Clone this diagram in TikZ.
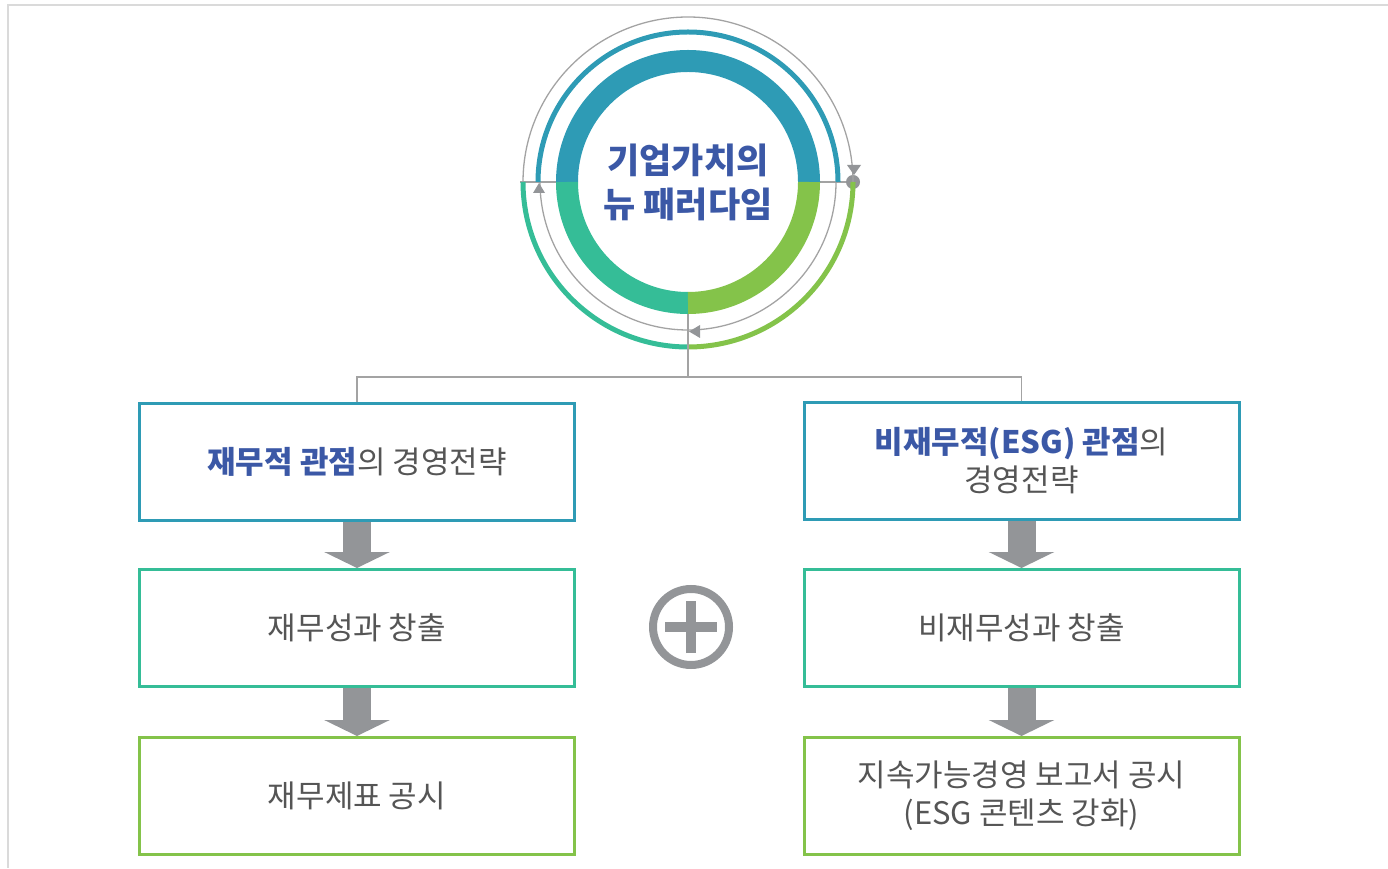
\documentclass[tikz,border=0pt]{standalone}
\usepackage{fontspec}
\newfontfamily\kr{Noto Sans CJK KR}
\usetikzlibrary{arrows.meta,calc}
\definecolor{ringblue}{HTML}{2E9BB5}
\definecolor{ringteal}{HTML}{35BD97}
\definecolor{ringgreen}{HTML}{84C34A}
\definecolor{txtblue}{HTML}{3B58A6}
\definecolor{txtgray}{HTML}{555555}
\definecolor{linegray}{HTML}{A3A3A3}
\definecolor{arrowgray}{HTML}{939598}
\definecolor{framegray}{HTML}{DADADA}
\begin{document}
\begin{tikzpicture}[x=1pt,y=1pt,
  box/.style={draw, line width=3pt, minimum width=435pt, minimum height=117pt,
    align=center, inner sep=0pt, text=txtgray,
    font=\kr\fontsize{31}{38}\selectfont},
  conn/.style={draw=linegray, line width=1.3pt},
  thinring/.style={draw=linegray, line width=1.3pt},
  blockarrow/.style={draw=arrowgray, line width=28pt,
    -{Triangle[width=65pt,length=16pt]}},
  marker/.style={fill=arrowgray}
]
\useasboundingbox (0,0) rectangle (1388,868);
% frame
\draw[framegray, line width=2pt] (1388,863) -- (8,863) -- (8,0);

% hub
\coordinate (C) at (688,686);
\node[circle, minimum size=220pt, inner sep=0pt, align=center, text=txtblue,
  font=\kr\bfseries\fontsize{35}{44}\selectfont] (hub) at (C) {기업가치의\\뉴 패러다임};

% boxes
\node[box, draw=ringblue]  (L1) at (357,406) {\textcolor{txtblue}{\bfseries 재무적 관점}의 경영전략};
\node[box, draw=ringteal]  (L2) at (357,240) {재무성과 창출};
\node[box, draw=ringgreen] (L3) at (357,72)  {재무제표 공시};
\node[box, draw=ringblue]  (R1) at (1021.5,407) {\textcolor{txtblue}{\bfseries 비재무적(ESG) 관점}의\\경영전략};
\node[box, draw=ringteal]  (R2) at (1021.5,240) {비재무성과 창출};
\node[box, draw=ringgreen] (R3) at (1021.5,72)  {지속가능경영 보고서 공시\\(ESG 콘텐츠 강화)};

% connectors from hub to boxes
\coordinate (j) at (688,491);
\draw[conn] (hub.south) -- (j);
\draw[conn] (L1.north) |- (j) -| (R1.north);

% horizontal line through hub
\node[circle, fill=arrowgray, minimum size=14pt, inner sep=0pt] (dot) at (853,686) {};
\coordinate (lend) at (520,686);
\draw[conn] (hub.west) -- (lend);
\draw[conn] (hub.east) -- (dot);

% thin rings
\draw[thinring] (C) ++(0:165) arc[start angle=0, end angle=180, radius=165];
\draw[thinring] (C) ++(180:148) arc[start angle=180, end angle=360, radius=148];
\draw[ringblue, line width=5pt] (C) ++(0:150) arc[start angle=0, end angle=180, radius=150];
\draw[ringteal, line width=5pt] (C) ++(180:165) arc[start angle=180, end angle=270, radius=165];
\draw[ringgreen, line width=5pt] (C) ++(270:165) arc[start angle=270, end angle=360, radius=165];

% thick ring
\draw[ringblue, line width=22pt] (C) ++(0:121) arc[start angle=0, end angle=180, radius=121];
\draw[ringteal, line width=22pt] (C) ++(180:121) arc[start angle=180, end angle=270, radius=121];
\draw[ringgreen, line width=22pt] (C) ++(270:121) arc[start angle=270, end angle=360, radius=121];

% vertical line visible over the bottom arcs gap
\draw[conn] ($(C)+(0,-132)$) -- ($(C)+(0,-170)$);

% direction markers
\fill[marker] (533,675) -- (545,675) -- (539,685) -- cycle;
\fill[marker] (847,703) -- (861,703) -- (854,693) -- cycle;
\fill[marker] (700,543) -- (700,530) -- (689,536.5) -- cycle;

% block arrows
\draw[blockarrow] (L1.south) -- (L2.north);
\draw[blockarrow] (L2.south) -- (L3.north);
\draw[blockarrow] (R1.south) -- (R2.north);
\draw[blockarrow] (R2.south) -- (R3.north);

% plus sign
\node[circle, draw=arrowgray, line width=8pt, minimum size=76pt, inner sep=0pt] (plus) at (691,241) {};
\draw[arrowgray, line width=10pt] ($(plus.center)+(-26,0)$) -- ($(plus.center)+(26,0)$);
\draw[arrowgray, line width=10pt] ($(plus.center)+(0,-26)$) -- ($(plus.center)+(0,26)$);
\end{tikzpicture}
\end{document}
